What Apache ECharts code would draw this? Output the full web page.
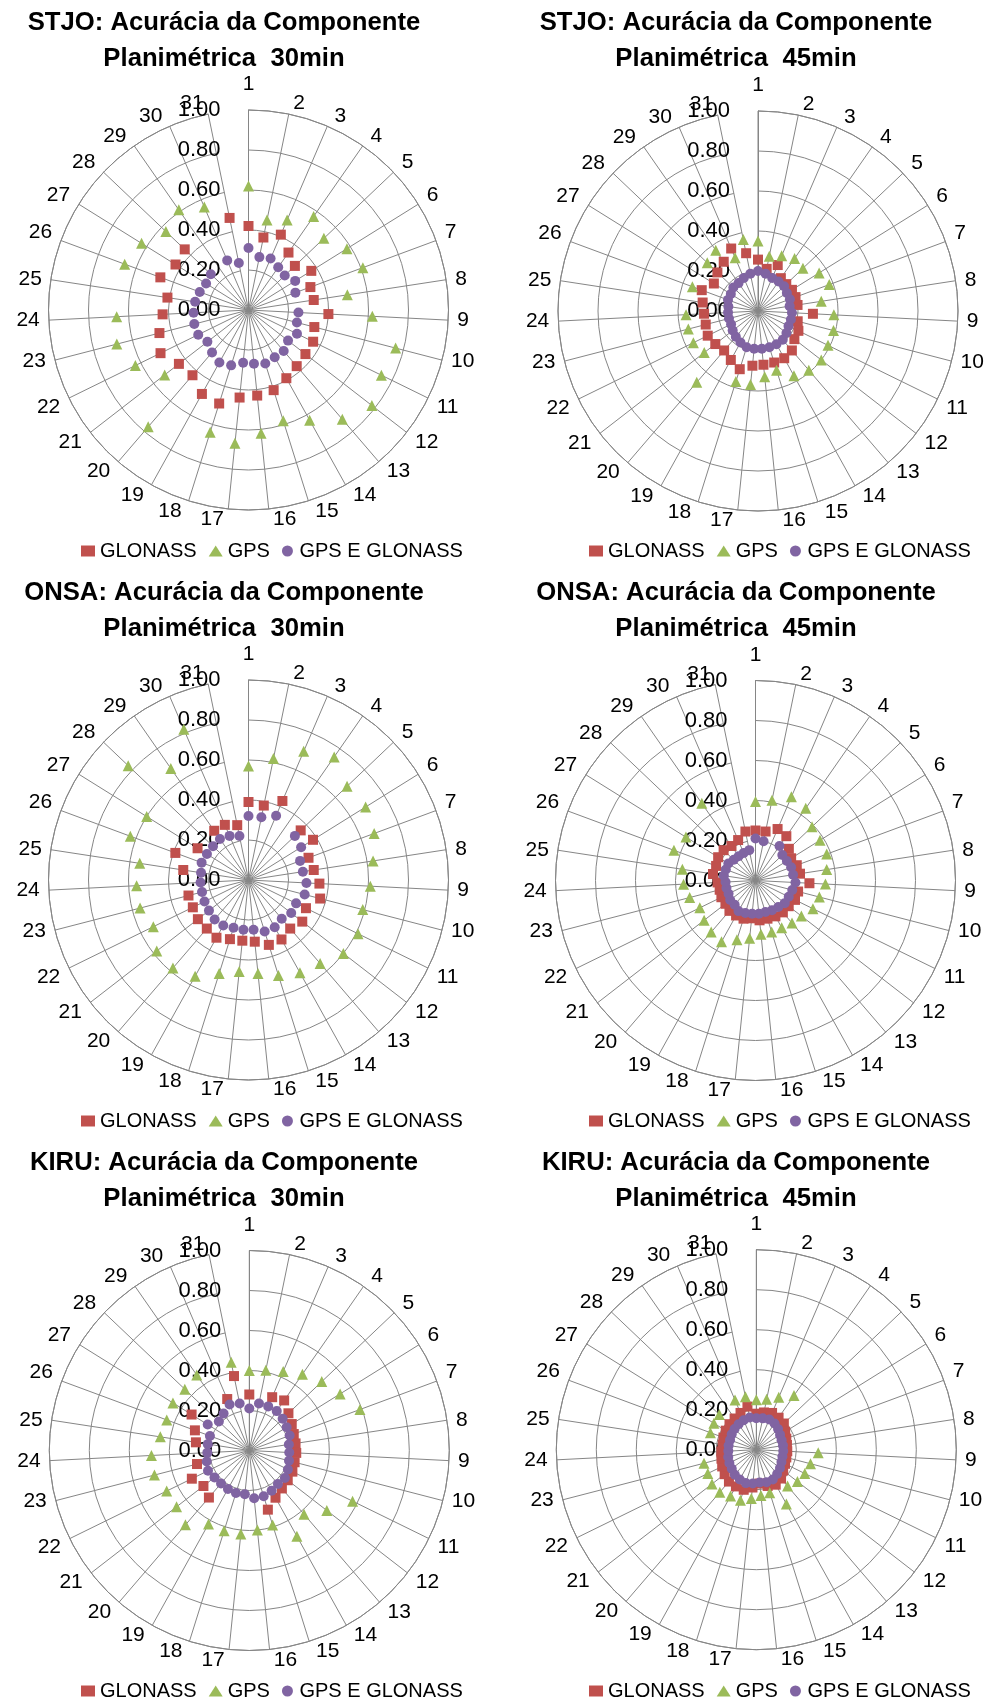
<!DOCTYPE html>
<html>
<head>
<meta charset="utf-8">
<script src="https://cdn.jsdelivr.net/npm/echarts@6/dist/echarts.min.js"></script>
<style>
  html, body { margin: 0; padding: 0; background: #ffffff; }
  #chart { width: 995px; height: 1702px; }
</style>
</head>
<body>
<div id="chart"></div>
<script>
// Days of the campaign (spokes of every radar)
const categories = ['1','2','3','4','5','6','7','8','9','10','11','12','13','14','15','16',
  '17','18','19','20','21','22','23','24','25','26','27','28','29','30','31'];
const radialTicks = [0, 0.2, 0.4, 0.6, 0.8, 1.0];
const seriesNames = ['GLONASS', 'GPS', 'GPS E GLONASS'];

// Planimetric accuracy (m); null = no solution for that day
const stjo30Glonass = [0.42,0.37,0.41,0.35,0.32,0.37,0.33,0.33,0.40,0.34, 0.36,0.36,0.37,0.39,0.42,0.43,0.44,0.49,0.48,0.43, 0.44,0.49,0.46,0.43,0.41,0.47,0.43,0.44,null,null,0.47];
const stjo30Gps     = [0.62,0.46,0.49,0.57,0.52,0.58,0.61,0.50,0.62,0.76, 0.74,0.78,0.72,0.63,0.58,0.62,0.67,0.64,null,0.77, 0.53,0.63,0.68,0.66,null,0.66,0.63,0.57,0.61,0.56,null];
const stjo30Both    = [0.31,0.27,0.28,0.26,0.25,0.275,0.25,null,0.25,0.25, 0.27,0.25,0.27,0.27,0.28,0.27,0.265,0.29,0.30,0.28, 0.26,0.28,0.28,0.275,0.27,0.26,0.25,0.26,null,0.27,0.24];

const stjo45Glonass = [0.257,0.215,0.25,0.20,0.195,0.20,0.20,0.20,0.275,0.205, 0.225,0.23,0.26,0.27,0.27,0.27,0.275,0.305,0.28,0.26, 0.27,0.28,0.27,0.27,0.28,0.30,0.26,0.28,0.30,0.34,0.295];
const stjo45Gps     = [0.35,0.28,0.30,0.32,0.31,0.36,0.38,0.32,0.38,0.39, 0.39,0.40,0.39,0.37,0.31,0.33,0.37,0.37,null,0.47, 0.34,0.36,0.36,0.36,null,0.35,null,0.35,0.37,0.29,0.365];
const stjo45Both    = [0.20,0.19,0.18,0.18,0.18,0.17,0.17,0.16,0.17,0.17, 0.17,0.18,0.19,0.19,0.19,0.19,0.19,0.19,0.18,0.17, 0.16,0.15,0.15,0.15,0.15,0.16,0.16,0.17,0.17,0.18,0.19];

const onsa30Glonass = [0.39,0.38,0.43,null,0.36,0.38,0.32,0.33,0.355,0.37, 0.32,0.34,0.32,0.34,0.34,0.31,0.305,0.31,0.33,0.32, 0.32,0.31,0.31,null,0.33,0.39,0.30,null,0.30,0.30,0.28];
const onsa30Gps     = [0.57,0.62,0.70,0.75,0.68,0.69,0.67,0.63,0.61,0.59, 0.61,0.60,0.55,0.53,0.50,0.47,0.46,0.49,0.55,0.58, 0.58,0.53,0.56,0.56,0.55,0.63,0.60,0.83,0.68,0.82,null];
const onsa30Both    = [0.32,0.32,0.35,null,0.32,0.31,0.275,0.275,0.29,0.29, 0.265,0.27,0.255,0.27,0.27,0.25,0.25,0.25,0.26,0.26, 0.25,0.245,0.24,0.24,0.24,0.25,0.245,0.245,0.25,0.24,0.225];

const onsa45Glonass = [0.25,0.25,0.28,0.27,0.23,0.21,0.22,0.225,0.27,0.22, 0.22,0.21,0.21,0.205,0.20,0.20,0.19,0.20,0.20,0.20, 0.19,0.19,0.185,0.19,0.215,0.21,0.22,0.22,0.21,0.22,0.25];
const onsa45Gps     = [0.395,0.41,0.455,0.44,0.39,0.38,0.38,0.36,0.35,0.33, 0.32,0.29,0.28,0.27,0.27,0.27,0.29,0.31,0.35,0.34, 0.325,0.31,0.34,0.36,0.37,0.435,0.41,null,0.47,null,null];
const onsa45Both    = [0.21,0.20,null,0.21,0.185,0.185,0.19,0.19,0.20,0.19, 0.185,0.185,0.175,0.17,0.165,0.167,0.167,0.17,0.175,0.16, 0.16,0.15,0.15,0.15,0.16,0.158,0.16,0.15,0.148,0.15,0.155];

const kiru30Glonass = [0.28,null,0.29,0.305,0.27,0.25,0.237,0.234,0.235,0.234, 0.24,0.243,0.25,0.27,0.31,null,null,null,null,0.31, 0.29,0.32,0.27,null,0.27,0.29,0.34,null,null,0.28,0.38];
const kiru30Gps     = [0.40,0.41,0.43,0.465,0.50,0.535,0.59,null,null,null, 0.575,0.49,0.42,0.49,0.39,0.40,0.42,0.42,0.42,0.49, 0.46,0.46,0.49,0.49,0.45,0.44,0.45,0.445,0.46,null,0.45];
const kiru30Both    = [0.21,0.24,0.24,0.24,0.23,0.22,0.215,0.20,0.20,0.205, 0.215,0.225,0.22,0.23,0.24,0.24,0.22,0.223,0.22,0.217, 0.22,0.23,0.22,0.21,0.21,0.21,0.245,0.21,0.225,0.25,0.24];

const kiru45Glonass = [0.18,0.19,0.20,0.195,0.19,0.17,0.16,0.155,0.155,0.155, 0.16,0.17,0.19,0.20,0.19,0.17,0.19,0.21,0.21,0.21, 0.20,0.19,0.18,0.175,0.17,0.175,0.18,0.185,0.19,0.20,0.22];
const kiru45Gps     = [0.25,0.257,0.285,0.33,null,null,null,null,0.31,0.28, 0.27,0.26,0.24,0.31,0.225,0.23,0.245,0.265,0.265,0.28, 0.28,0.27,0.27,null,null,0.245,0.25,0.255,null,0.27,0.27];
const kiru45Both    = [0.157,0.16,0.164,0.16,0.15,0.14,0.135,0.135,0.135,0.135, 0.14,0.15,0.16,0.17,0.17,0.165,0.17,0.175,0.17,0.165, 0.155,0.15,0.145,0.14,0.14,0.14,0.145,0.15,0.155,0.16,0.164];

const titles = [
  'STJO: Acurácia da Componente\nPlanimétrica  30min',
  'STJO: Acurácia da Componente\nPlanimétrica  45min',
  'ONSA: Acurácia da Componente\nPlanimétrica  30min',
  'ONSA: Acurácia da Componente\nPlanimétrica  45min',
  'KIRU: Acurácia da Componente\nPlanimétrica  30min',
  'KIRU: Acurácia da Componente\nPlanimétrica  45min'
];
const panelSeries = [
  [stjo30Glonass, stjo30Gps, stjo30Both],
  [stjo45Glonass, stjo45Gps, stjo45Both],
  [onsa30Glonass, onsa30Gps, onsa30Both],
  [onsa45Glonass, onsa45Gps, onsa45Both],
  [kiru30Glonass, kiru30Gps, kiru30Both],
  [kiru45Glonass, kiru45Gps, kiru45Both]
];

// ---- layout & style ----
const FONT = '"Liberation Sans", Arial, sans-serif';
const GRID = '#868686';
const COLORS = ['#C0504D', '#9BBB59', '#8064A2'];
const SYMBOLS = ['rect', 'triangle', 'circle'];
const SIZES = [10, 11, 10];
const ROW_H = 570;
const RADIUS = 200;
const LABEL_MARGIN = 3;
const LABEL_SIZE = 21;
const DIGIT_W = LABEL_SIZE * 0.556;
const layout = [
  { cx: 248.5, cy: 310,   titleX: 224, legendX: 81 },
  { cx: 758,   cy: 311,   titleX: 736, legendX: 589 },
  { cx: 248.5, cy: 880,   titleX: 224, legendX: 81 },
  { cx: 755.5, cy: 880.5, titleX: 736, legendX: 589 },
  { cx: 249.3, cy: 1450.5,titleX: 224, legendX: 81 },
  { cx: 756.3, cy: 1449.7,titleX: 736, legendX: 589 }
];

// Spoke labels that the polar axis would centre on the spoke end (those close to the
// vertical) are pushed sideways so they sit beside it; the top day is lifted clear of the ring.
const spokeLabels = categories.map((name, k) => {
  const a = k * 2 * Math.PI / categories.length;
  const s = Math.sin(a);
  if (k === 0) return { value: name, textStyle: { padding: [0, 6, 15, 6] } };
  if (Math.abs(s) * (RADIUS + LABEL_MARGIN) / RADIUS < 0.3) {
    const shift = 2 * (4 + name.length * DIGIT_W / 2);
    const pad = s > 0 ? [0, 6, 0, 6 + shift] : [0, 6 + shift, 0, 6];
    return { value: name, textStyle: { padding: pad } };
  }
  return name;
});

const option = {
  backgroundColor: '#ffffff',
  animation: false,
  title: [], legend: [], polar: [], angleAxis: [], radiusAxis: [], series: []
};

layout.forEach((p, i) => {
  const row = Math.floor(i / 2);
  option.title.push({
    text: titles[i],
    left: p.titleX, top: 5 + row * ROW_H,
    textAlign: 'center', padding: 0,
    textStyle: { fontFamily: FONT, fontSize: 25.7, fontWeight: 'bold', color: '#000', lineHeight: 36 }
  });
  option.legend.push({
    data: seriesNames,
    left: p.legendX, top: 541 + row * ROW_H,
    padding: 0, itemWidth: 14, itemHeight: 11, itemGap: 12,
    selectedMode: false,
    textStyle: { fontFamily: FONT, fontSize: 20, color: '#000' }
  });
  option.polar.push({ center: [p.cx, p.cy], radius: RADIUS });
  option.angleAxis.push({
    polarIndex: i, type: 'category', data: spokeLabels,
    startAngle: 90, clockwise: true, boundaryGap: false,
    axisLine: { show: true, lineStyle: { color: GRID, width: 1 } },
    axisTick: { show: false },
    splitLine: { show: true, interval: 0, lineStyle: { color: GRID, width: 1 } },
    axisLabel: {
      interval: 0, margin: LABEL_MARGIN,
      padding: [0, 6, 0, 6],
      lineHeight: 15,
      fontFamily: FONT, fontSize: LABEL_SIZE, color: '#000'
    }
  });
  option.radiusAxis.push({
    polarIndex: i, type: 'value',
    min: radialTicks[0], max: radialTicks[radialTicks.length - 1],
    interval: radialTicks[1] - radialTicks[0],
    axisLine: { show: true, lineStyle: { color: GRID, width: 1 } },
    axisTick: { show: false },
    splitLine: { show: true, lineStyle: { color: GRID, width: 1 } },
    axisLabel: { margin: 28, fontFamily: FONT, fontSize: 22, color: '#000', formatter: v => v.toFixed(2) }
  });
  panelSeries[i].forEach((values, s) => {
    const pts = [];
    values.forEach((v, k) => { if (v !== null) pts.push([v, k]); });
    option.series.push({
      type: 'scatter', coordinateSystem: 'polar', polarIndex: i,
      name: seriesNames[s], symbol: SYMBOLS[s], symbolSize: SIZES[s],
      itemStyle: { color: COLORS[s], opacity: 1 }, silent: true,
      data: pts
    });
  });
});

const chart = echarts.init(document.getElementById('chart'), null, { renderer: 'canvas' });
chart.setOption(option);
</script>
</body>
</html>
